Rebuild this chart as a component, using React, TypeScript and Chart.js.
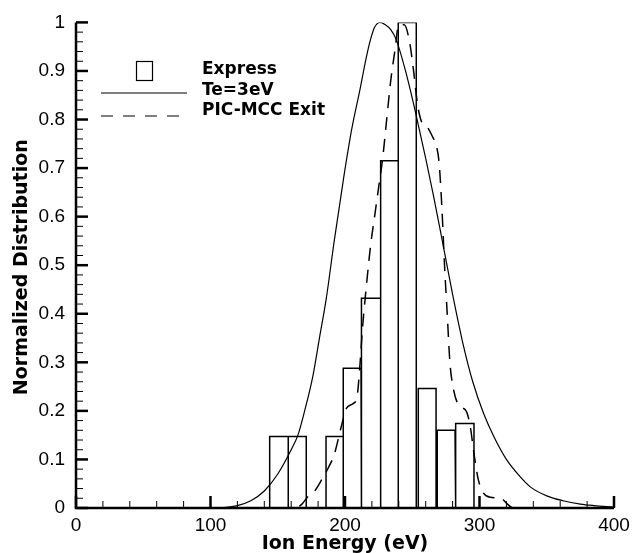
import React, { useEffect, useRef } from "react";
import { Chart, registerables } from "chart.js";

Chart.register(...registerables);

// Express histogram bins (eV) and normalized heights
const expressBinLeft = [144, 157.8, 185.9, 198.7, 212.4, 226.5, 239.6, 254.5, 268.6, 282.5];
const expressBinRight = [157.8, 171.2, 198.7, 211.9, 226.5, 239.6, 253, 267.7, 281.8, 295.9];
const expressValues = [0.147, 0.147, 0.147, 0.288, 0.432, 0.715, 1.0, 0.246, 0.16, 0.174];

// Te=3eV curve
const teEnergy = [0, 100, 110, 120, 130, 140, 150, 160, 165, 170, 176, 181, 186, 192, 199, 205, 211, 216, 219, 222, 226, 230, 234, 238, 245, 252, 260, 266, 272, 280, 288, 295, 303, 311, 320, 330, 338, 350, 362, 375, 385, 400];
const teValues = [0, 0, 0.001, 0.005, 0.015, 0.035, 0.07, 0.12, 0.15, 0.2, 0.27, 0.35, 0.43, 0.55, 0.68, 0.78, 0.86, 0.93, 0.965, 0.99, 1.0, 0.995, 0.985, 0.965, 0.9, 0.82, 0.72, 0.64, 0.555, 0.44, 0.335, 0.26, 0.195, 0.145, 0.1, 0.065, 0.043, 0.025, 0.015, 0.008, 0.005, 0.002];

// PIC-MCC Exit curve
const picEnergy = [150, 163, 168, 172, 178, 184, 188, 192, 197, 201, 206, 209, 211, 213, 216, 219, 222, 225, 228, 231, 234, 237, 240, 244, 248, 251, 254, 257, 261, 265, 268, 270, 272, 274, 276, 278, 281, 285, 290, 293, 296, 299, 302, 308, 316, 320, 325, 400];
const picValues = [0, 0, 0.008, 0.022, 0.037, 0.065, 0.085, 0.11, 0.165, 0.205, 0.215, 0.23, 0.29, 0.37, 0.46, 0.54, 0.6, 0.66, 0.72, 0.8, 0.88, 0.94, 0.995, 0.995, 0.96, 0.9, 0.83, 0.795, 0.785, 0.765, 0.745, 0.71, 0.62, 0.5, 0.4, 0.3, 0.24, 0.21, 0.2, 0.17, 0.11, 0.06, 0.035, 0.022, 0.02, 0.01, 0, 0];

const legendLabels = ["Express", "Te=3eV", "PIC-MCC Exit"];
const xTitle = "Ion Energy (eV)";
const yTitle = "Normalized Distribution";

const W = 641;
const H = 553;

export default function App() {
  const ref = useRef<HTMLCanvasElement | null>(null);

  useEffect(() => {
    const canvas = ref.current;
    if (!canvas) return;

    const histPoints: { x: number; y: number }[] = [];
    for (let i = 0; i < expressValues.length; i++) {
      histPoints.push({ x: expressBinLeft[i], y: 0 });
      histPoints.push({ x: expressBinLeft[i], y: expressValues[i] });
      histPoints.push({ x: expressBinRight[i], y: expressValues[i] });
      histPoints.push({ x: expressBinRight[i], y: 0 });
    }
    const tePoints = teEnergy.map((x, i) => ({ x, y: teValues[i] }));
    const picPoints = picEnergy.map((x, i) => ({ x, y: picValues[i] }));

    const decor = {
      id: "decor",
      afterDatasetsDraw(chart: any) {
        const ctx = chart.ctx as CanvasRenderingContext2D;
        const xs = chart.scales.x;
        const ys = chart.scales.y;
        const x0 = xs.getPixelForValue(0);
        const x1 = xs.getPixelForValue(400);
        const y0 = ys.getPixelForValue(0);
        const y1 = ys.getPixelForValue(1);
        ctx.save();
        ctx.strokeStyle = "#000";
        ctx.fillStyle = "#000";
        // axis lines
        ctx.lineWidth = 2.5;
        ctx.beginPath();
        ctx.moveTo(x0, y1);
        ctx.lineTo(x0, y0);
        ctx.lineTo(x1, y0);
        ctx.stroke();
        // y ticks
        for (let k = 0; k <= 50; k++) {
          const v = k / 50;
          const py = ys.getPixelForValue(v);
          const major = k % 5 === 0;
          ctx.lineWidth = major ? 2.5 : 1;
          ctx.beginPath();
          ctx.moveTo(x0, py);
          ctx.lineTo(x0 + (major ? 12 : 7), py);
          ctx.stroke();
        }
        // x ticks
        for (let k = 0; k <= 20; k++) {
          const v = k * 20;
          const px = xs.getPixelForValue(v);
          const major = k % 5 === 0;
          ctx.lineWidth = major ? 2.5 : 1;
          ctx.beginPath();
          ctx.moveTo(px, y0);
          ctx.lineTo(px, y0 - (major ? 12 : 7));
          ctx.stroke();
        }
        // titles
        ctx.font = "bold 19px 'DejaVu Sans', sans-serif";
        ctx.textAlign = "center";
        ctx.textBaseline = "middle";
        ctx.fillText(xTitle, (x0 + x1) / 2, 544);
        ctx.save();
        ctx.translate(22, (y0 + y1) / 2 + 2);
        ctx.rotate(-Math.PI / 2);
        ctx.fillText(yTitle, 0, 0);
        ctx.restore();
        // legend
        ctx.lineWidth = 1.2;
        ctx.strokeRect(136.5, 61.5, 16, 19);
        ctx.beginPath();
        ctx.moveTo(101, 93);
        ctx.lineTo(187, 93);
        ctx.stroke();
        ctx.setLineDash([12, 10]);
        ctx.beginPath();
        ctx.moveTo(101, 116);
        ctx.lineTo(189, 116);
        ctx.stroke();
        ctx.setLineDash([]);
        ctx.font = "bold 17px 'DejaVu Sans', sans-serif";
        ctx.textAlign = "left";
        ctx.textBaseline = "middle";
        ctx.fillText(legendLabels[0], 202, 70);
        ctx.fillText(legendLabels[1], 202, 91);
        ctx.fillText(legendLabels[2], 202, 111);
        ctx.restore();
      },
    };

    const chart = new Chart(canvas, {
      type: "line",
      data: {
        datasets: [
          {
            label: legendLabels[0],
            data: histPoints,
            borderColor: "#000",
            borderWidth: 1.5,
            pointRadius: 0,
            tension: 0,
            fill: false,
          },
          {
            label: legendLabels[1],
            data: tePoints,
            borderColor: "#000",
            borderWidth: 1.2,
            pointRadius: 0,
            cubicInterpolationMode: "monotone",
            fill: false,
          },
          {
            label: legendLabels[2],
            data: picPoints,
            borderColor: "#000",
            borderWidth: 1.5,
            borderDash: [13, 9],
            pointRadius: 0,
            cubicInterpolationMode: "monotone",
            fill: false,
          },
        ],
      },
      options: {
        animation: false,
        responsive: false,
        devicePixelRatio: 1,
        layout: { padding: { left: 0, right: 27, top: 17, bottom: 0 } },
        plugins: { legend: { display: false }, tooltip: { enabled: false } },
        scales: {
          x: {
            type: "linear",
            min: 0,
            max: 400,
            grid: { display: false, drawTicks: false },
            border: { display: false },
            ticks: {
              stepSize: 100,
              autoSkip: false,
              maxRotation: 0,
              padding: 6,
              color: "#000",
              font: { family: "'Liberation Sans', Arial, sans-serif", size: 19 },
              callback: (v: any) => String(v),
            },
            afterFit: (s: any) => {
              s.height = 45;
            },
          },
          y: {
            type: "linear",
            min: 0,
            max: 1,
            grid: { display: false, drawTicks: false },
            border: { display: false },
            ticks: {
              stepSize: 0.1,
              padding: 11,
              color: "#000",
              font: { family: "'Liberation Sans', Arial, sans-serif", size: 19 },
              callback: (v: any) => String(Number(Number(v).toFixed(1))),
            },
            afterFit: (s: any) => {
              s.width = 76;
            },
          },
        },
      },
      plugins: [decor],
    });

    return () => chart.destroy();
  }, []);

  return (
    <canvas
      ref={ref}
      width={W}
      height={H}
      style={{ position: "absolute", left: 0, top: 0, width: W, height: H, display: "block", background: "#fff" }}
    />
  );
}
